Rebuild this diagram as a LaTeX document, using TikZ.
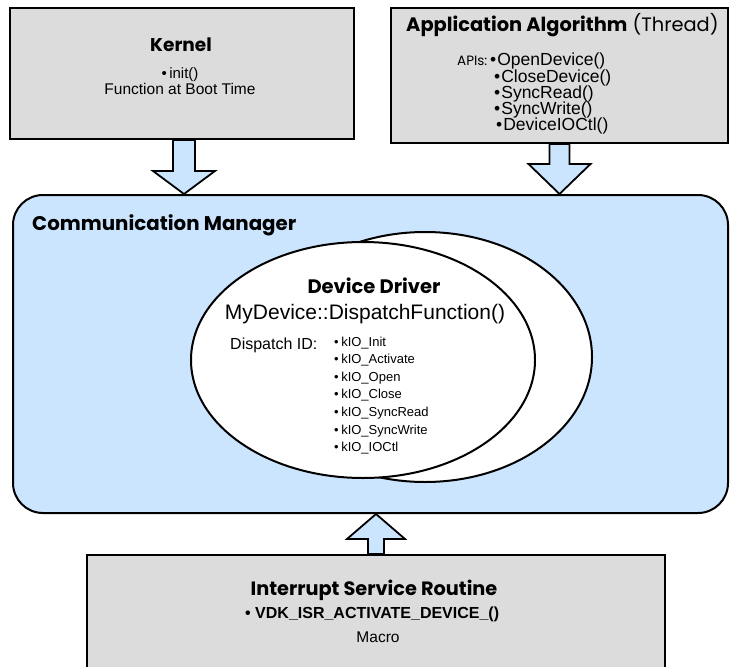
\documentclass[tikz,border=0pt]{standalone}
\usepackage{fontspec}
\setmainfont{Liberation Sans}
\newfontfamily\gothic{Poppins}
\usetikzlibrary{calc,shapes.geometric}
\definecolor{panelgray}{RGB}{220,220,220}
\definecolor{commblue}{RGB}{204,229,255}
\newcommand\sizept[1]{\fontsize{#1}{#1}\selectfont}
\tikzset{
  panel/.style={rectangle, draw=black, fill=panelgray, line width=2pt, inner sep=0pt},
  txt/.style={inner sep=0pt, anchor=base},
  txtw/.style={inner sep=0pt, anchor=base west},
  head/.style={font=\gothic\bfseries\sizept{#1}},
  body/.style={font=\normalfont\sizept{#1}},
  blockarrow/.style n args={3}{draw=black, fill=commblue, line width=1.8pt, line join=miter,
    to path={
      (\tikztostart) coordinate (ba-s) (\tikztotarget) coordinate (ba-t)
      ($(ba-t)!#3!(ba-s)$) coordinate (ba-b)
      ($(ba-s)!#1!90:(ba-t)$) -- ($(ba-b)!#1!90:(ba-t)$) -- ($(ba-b)!#2!90:(ba-t)$) -- (ba-t)
      -- ($(ba-b)!#2!-90:(ba-t)$) -- ($(ba-b)!#1!-90:(ba-t)$) -- ($(ba-s)!#1!-90:(ba-t)$) -- cycle
    }}
}
\begin{document}
\begin{tikzpicture}[x=1pt,y=-1pt]
\useasboundingbox (0,0) rectangle (730,666);
\clip (0,0) rectangle (730,666);

% communication manager and the device driver inside it
\node[rectangle, rounded corners=30pt, draw=black, fill=commblue, line width=2pt,
      minimum width=715pt, minimum height=318pt] (comm) at (370.5,354) {};
\node[txtw, head=19.8] (commT) at (32,230) {Communication Manager};

\node[ellipse, draw=black, fill=white, line width=2pt, inner sep=0pt,
      minimum width=334pt, minimum height=250pt] (ddback) at (425,357) {};
\node[ellipse, draw=black, fill=white, line width=2pt, inner sep=0pt,
      minimum width=344pt, minimum height=236pt] (dd) at (363,360) {};
\node[txt, head=19.5] (ddT) at (374,293) {Device Driver};
\node[txt, body=21] (ddF) at (365,319) {MyDevice::DispatchFunction()};
\node[txtw, body=16] (ddID) at (230,349) {Dispatch ID:};
\foreach \k/\name in {0/Init,1/Activate,2/Open,3/Close,4/SyncRead,5/SyncWrite,6/IOCtl}
  \node[txtw, body=13] (kio\k) at (334,{346+17.6*\k}) {•\hspace{2.5pt}kIO\_\name};

% kernel
\node[panel, minimum width=344pt, minimum height=131pt] (kernel) at (182,73.5) {};
\node[txt, head=18.5] (kernelT) at (181,52) {Kernel};
\node[txt, body=15] (kernelA) at (180,79) {•\,init()};
\node[txt, body=15.5] (kernelB) at (180,95) {Function at Boot Time};

% application algorithm
\node[panel, minimum width=337pt, minimum height=135pt] (app) at (559.5,75.5) {};
\node[txtw, font=\gothic\sizept{19.4}] (appT) at (406,32) {\textbf{Application Algorithm} (Thread)};
\node[txtw, font=\gothic\sizept{13.5}] (apis) at (457,66) {APIs:};
\foreach \k/\x/\name in {0/490/OpenDevice,1/494/CloseDevice,2/494/SyncRead,3/494/SyncWrite,4/496/DeviceIOCtl}
  \node[txtw, body=17.5] (api\k) at (\x,{66+16.2*\k}) {•\hspace{1pt}\name()};

% interrupt service routine
\node[panel, minimum width=578pt, minimum height=115pt] (isr) at (376,612.5) {};
\node[txt, head=19.3] (isrT) at (374,595) {Interrupt Service Routine};
\node[txtw, font=\normalfont\bfseries\sizept{16}] (isrA) at (245,618) {• VDK\_ISR\_ACTIVATE\_DEVICE\_()};
\node[txt, body=15.5] (isrB) at (378,642) {Macro};

% block arrows into the communication manager
\draw[blockarrow={11pt}{31pt}{23pt}] ($(kernel.south)+(2,0)$) to ($(kernel.south |- comm.north)+(2,0)$);
\draw[blockarrow={10pt}{31pt}{30pt}] (app.south) to (app.south |- comm.north);
\draw[blockarrow={8pt}{29pt}{25pt}] (isr.north) to (isr.north |- comm.south);
\end{tikzpicture}
\end{document}
